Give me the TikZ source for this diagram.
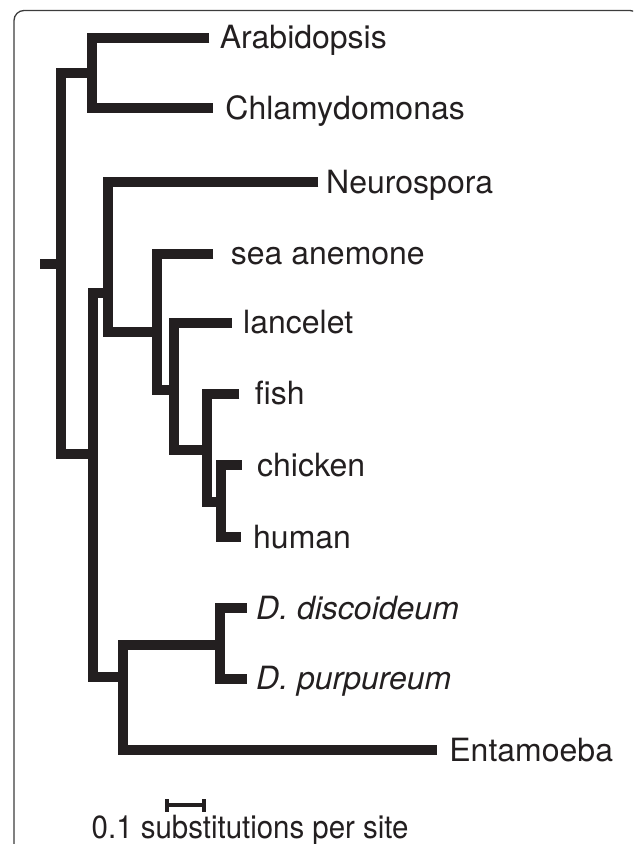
\documentclass[tikz,border=0pt]{standalone}
\usepackage{fontspec}
\setmainfont{TeX Gyre Heros}
\definecolor{ink}{RGB}{35,31,32}
\definecolor{framecol}{RGB}{60,60,60}
\begin{document}
\begin{tikzpicture}[x=1pt,y=-1pt,
  branch/.style={draw=ink,line width=10pt,line join=miter},
  lab/.style={anchor=base west,inner sep=0pt,text=ink,font=\fontsize{32}{33}\selectfont},
  framebox/.style={draw=framecol,line width=1.3pt,rounded corners=10pt},
  scalebar/.style={draw=ink,line width=4pt},
  scaletick/.style={draw=ink,line width=4.3pt}]
\useasboundingbox (0,0) rectangle (633,844);
\clip (0,0) rectangle (633,844);
\draw[framebox] (14,10.5) rectangle (640,880);

% tips
\coordinate (tArab)  at (209.3,37.7);
\coordinate (tChla)  at (213.3,108);
\coordinate (tNeur)  at (318.3,182);
\coordinate (tSea)   at (213.3,253.5);
\coordinate (tLanc)  at (231.7,322.7);
\coordinate (tFish)  at (239.3,393.7);
\coordinate (tChick) at (241.7,465.3);
\coordinate (tHum)   at (240.7,537);
\coordinate (tDd)    at (246.7,608);
\coordinate (tDp)    at (246.7,678.7);
\coordinate (tEnt)   at (436.7,750.3);
% internal nodes
\coordinate (nAC)   at (92,73);
\coordinate (nRoot) at (60.7,263.7);
\coordinate (stub)  at (40,263.7);
\coordinate (nB)    at (92.5,453.5);
\coordinate (nA)    at (107.5,293);
\coordinate (nM)    at (157,332);
\coordinate (nBil)  at (173.5,390.3);
\coordinate (nV)    at (207,450.3);
\coordinate (nAm)   at (221,501.5);
\coordinate (nC)    at (122.7,677);
\coordinate (nD)    at (220.3,644.7);

% branches
\draw[branch] (tArab) -| (nAC) |- (tChla);
\draw[branch] (nAC) -| (nRoot) |- (nB);
\draw[branch] (stub) -- (nRoot);
\draw[branch] (nA) -| (nB) |- (nC);
\draw[branch] (tNeur) -| (nA) |- (nM);
\draw[branch] (tSea) -| (nM) |- (nBil);
\draw[branch] (tLanc) -| (nBil) |- (nV);
\draw[branch] (tFish) -| (nV) |- (nAm);
\draw[branch] (tChick) -| (nAm) |- (tHum);
\draw[branch] (nD) -| (nC) |- (tEnt);
\draw[branch] (tDd) -| (nD) |- (tDp);

% labels
\node[lab] (lArab)  at (219.6,48.9) {Arabidopsis};
\node[lab] (lChla)  at (225.2,119.2) {Chlamydomonas};
\node[lab] (lNeur)  at (326,193.2) {Neurospora};
\node[lab] (lSea)   at (230.7,264.7) {sea anemone};
\node[lab] (lLanc)  at (243,333.9) {lancelet};
\node[lab] (lFish)  at (254.6,404.9) {fish};
\node[lab] (lChick) at (257,476.5) {chicken};
\node[lab] (lHum)   at (253,548.2) {human};
\node[lab] (lDd)    at (256,619.2) {\itshape D. discoideum};
\node[lab] (lDp)    at (256,689.9) {\itshape D. purpureum};
\node[lab] (lEnt)   at (449.2,761.5) {Entamoeba};

% scale bar
\coordinate (s1) at (167.2,805.3);
\coordinate (s2) at (203.8,805.3);
\draw[scalebar] (s1) -- (s2);
\draw[scaletick] ([yshift=-6.2pt]s1) -- ([yshift=6.2pt]s1);
\draw[scaletick] ([yshift=-6.2pt]s2) -- ([yshift=6.2pt]s2);
\node[lab] (lScale) at (91.5,838.5) {\scalebox{0.92}[1]{0.1 substitutions per site}};
\end{tikzpicture}
\end{document}
